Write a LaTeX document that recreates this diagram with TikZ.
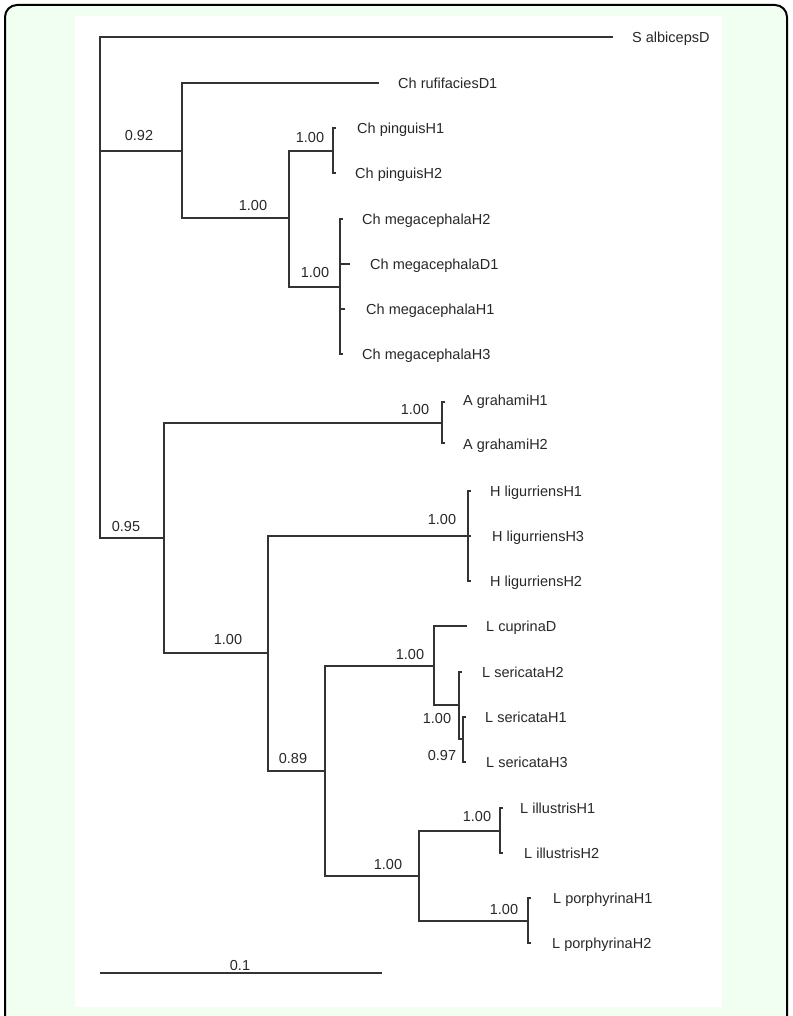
\documentclass[tikz,border=0pt]{standalone}
\usepackage{fontspec}
\setmainfont{Liberation Sans}
\definecolor{mint}{RGB}{240,255,242}
\definecolor{linegray}{RGB}{51,51,51}
\definecolor{txtgray}{RGB}{40,40,40}
\begin{document}
\begin{tikzpicture}[x=1pt,y=-1pt,
  br/.style={line width=1.6pt, draw=linegray, line join=miter},
  leaf/.style={anchor=base west, inner sep=0pt, text=txtgray, font=\fontsize{14.5}{17}\selectfont},
  supp/.style={anchor=base, inner sep=0pt, text=txtgray, font=\fontsize{14.5}{17}\selectfont}]
\useasboundingbox (0,0) rectangle (792,1016);
% frame
\fill[mint, rounded corners=12pt] (5,5) rectangle (787,1040);
\draw[line width=2pt, black, rounded corners=12pt] (5,5) rectangle (787,1040);
\fill[white] (75,16) rectangle (722,1007);

% tips (branch ends)
\coordinate (tS) at (613,37);
\coordinate (tRuf) at (379,83);
\coordinate (tP1) at (336,128);
\coordinate (tP2) at (336,173);
\coordinate (tM1) at (343,219);
\coordinate (tM2) at (350,264);
\coordinate (tM3) at (345,309);
\coordinate (tM4) at (343,354);
\coordinate (tA1) at (445,402);
\coordinate (tA2) at (445,443);
\coordinate (tH1) at (471,491);
\coordinate (tH3) at (471,536);
\coordinate (tH2) at (471,581);
\coordinate (tCup) at (467,626);
\coordinate (tS2) at (462,672);
\coordinate (tS1) at (466,717);
\coordinate (tS3) at (466,762);
\coordinate (tI1) at (503,808);
\coordinate (tI2) at (503,853);
\coordinate (tPo1) at (531,898);
\coordinate (tPo2) at (531,943);

% internal nodes
\coordinate (root) at (100,151);
\coordinate (n092) at (182,151);
\coordinate (nCh) at (289,218);
\coordinate (nPin) at (333,151);
\coordinate (nMeg) at (340,287);
\coordinate (n095) at (164,538);
\coordinate (nAgr) at (442,423);
\coordinate (nB) at (268,653);
\coordinate (nHli) at (468,536);
\coordinate (n089) at (325,771);
\coordinate (nLcs) at (434,666);
\coordinate (nSer) at (459,705);
\coordinate (nSer2) at (463,739);
\coordinate (nLip) at (419,876);
\coordinate (nIll) at (500,831);
\coordinate (nPor) at (528,921);

% branches
\draw[br] (tS) -| (root) |- (n095);
\draw[br] (root) -- (n092);
\draw[br] (tRuf) -| (n092) |- (nCh);
\draw[br] (nPin) -| (nCh) |- (nMeg);
\draw[br] (tP1) -| (nPin) |- (tP2);
\draw[br] (tM1) -| (nMeg) |- (tM4);
\draw[br] (tM2) -- (tM2 -| nMeg);
\draw[br] (tM3) -- (tM3 -| nMeg);
\draw[br] (nAgr) -| (n095) |- (nB);
\draw[br] (tA1) -| (nAgr) |- (tA2);
\draw[br] (nHli) -| (nB) |- (n089);
\draw[br] (tH1) -| (nHli) |- (tH2);
\draw[br] (tH3) -- (nHli);
\draw[br] (nLcs) -| (n089) |- (nLip);
\draw[br] (tCup) -| (nLcs) |- (nSer);
\draw[br] (tS2) -| (nSer) |- (nSer2);
\draw[br] (tS1) -| (nSer2) |- (tS3);
\draw[br] (nIll) -| (nLip) |- (nPor);
\draw[br] (tI1) -| (nIll) |- (tI2);
\draw[br] (tPo1) -| (nPor) |- (tPo2);

% scale bar
\coordinate (sb1) at (100,973);
\coordinate (sb2) at (382,973);
\draw[br] (sb1) -- (sb2);
\node[supp] (sblab) at (240,970) {0.1};

% leaf labels
\node[leaf] (lS)   at (632,42.2) {S albicepsD};
\node[leaf] (lRuf) at (398,88.2) {Ch rufifaciesD1};
\node[leaf] (lP1)  at (357,133.2) {Ch pinguisH1};
\node[leaf] (lP2)  at (355,178.2) {Ch pinguisH2};
\node[leaf] (lM1)  at (362,224.2) {Ch megacephalaH2};
\node[leaf] (lM2)  at (370,269.2) {Ch megacephalaD1};
\node[leaf] (lM3)  at (366,314.2) {Ch megacephalaH1};
\node[leaf] (lM4)  at (362,359.2) {Ch megacephalaH3};
\node[leaf] (lA1)  at (463,405.2) {A grahamiH1};
\node[leaf] (lA2)  at (463,449.2) {A grahamiH2};
\node[leaf] (lH1)  at (490,496.2) {H ligurriensH1};
\node[leaf] (lH3)  at (492,541.2) {H ligurriensH3};
\node[leaf] (lH2)  at (490,586.2) {H ligurriensH2};
\node[leaf] (lCup) at (486,631.2) {L cuprinaD};
\node[leaf] (lS2)  at (482,677.2) {L sericataH2};
\node[leaf] (lS1)  at (485,722.2) {L sericataH1};
\node[leaf] (lS3)  at (486,767.2) {L sericataH3};
\node[leaf] (lI1)  at (520,813.2) {L illustrisH1};
\node[leaf] (lI2)  at (524,858.2) {L illustrisH2};
\node[leaf] (lPo1) at (553,903.2) {L porphyrinaH1};
\node[leaf] (lPo2) at (552,948.2) {L porphyrinaH2};

% support values
\node[supp] (s1)  at (139,140.5) {0.92};
\node[supp] (s2)  at (310,143) {1.00};
\node[supp] (s3)  at (253,211) {1.00};
\node[supp] (s4)  at (315,277) {1.00};
\node[supp] (s5)  at (126,531) {0.95};
\node[supp] (s6)  at (415,414) {1.00};
\node[supp] (s7)  at (228,644) {1.00};
\node[supp] (s8)  at (442,524) {1.00};
\node[supp] (s9)  at (293,763) {0.89};
\node[supp] (s10) at (410,659) {1.00};
\node[supp] (s11) at (437,723) {1.00};
\node[supp] (s12) at (442,760) {0.97};
\node[supp] (s13) at (477,821) {1.00};
\node[supp] (s14) at (388,869) {1.00};
\node[supp] (s15) at (504,914) {1.00};
\end{tikzpicture}
\end{document}
